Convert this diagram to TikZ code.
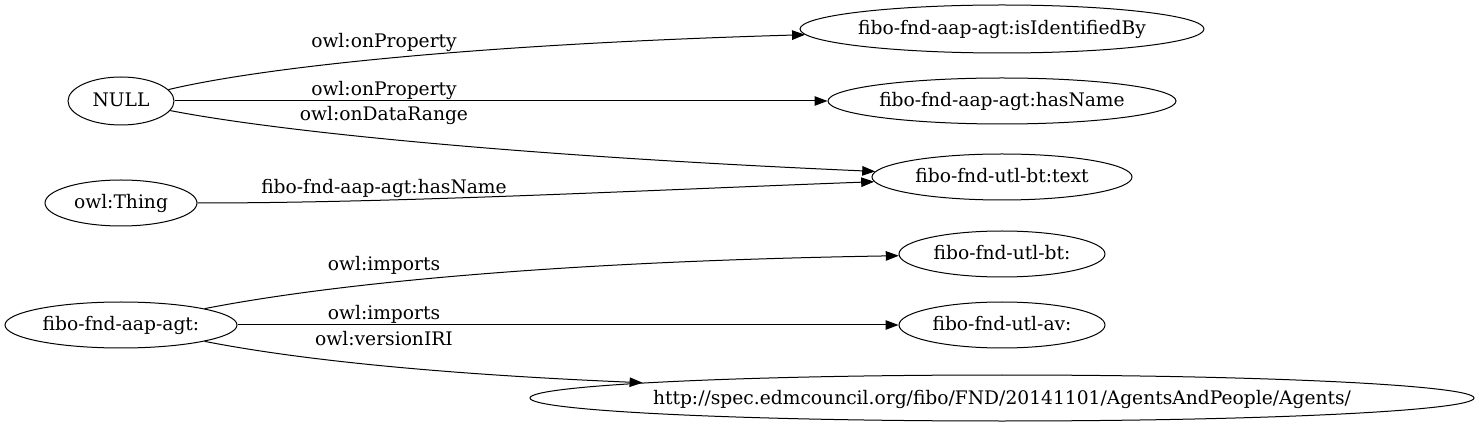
\documentclass[tikz,border=0pt]{standalone}
\usepackage{fontspec}
\setmainfont{DejaVu Serif}
\usetikzlibrary{arrows.meta,shapes.geometric}
\newcommand\ovl[1]{\makebox[0pt]{#1}}
\begin{document}
\begin{tikzpicture}[x=1pt,y=-1pt,
  font=\fontsize{18.67}{22}\selectfont,
  nd/.style={ellipse,draw,line width=1pt,inner sep=0pt,text height=13.5pt,text depth=1.5pt},
  lbl/.style={inner sep=0pt,text height=13.5pt,text depth=1.5pt},
  conn/.style={draw,line width=1pt,-{Triangle[length=13pt,width=9.5pt]}}]
\useasboundingbox (0,0) rectangle (1480,427);
% nodes
\node[nd,minimum width=404pt,minimum height=48pt] (isid) at (1002,29) {\ovl{fibo-fnd-aap-agt:isIdentifiedBy}};
\node[nd,minimum width=348pt,minimum height=46pt] (hasname) at (1002,101) {\ovl{fibo-fnd-aap-agt:hasName}};
\node[nd,minimum width=260pt,minimum height=46pt] (text) at (1002,177) {\ovl{fibo-fnd-utl-bt:text}};
\node[nd,minimum width=206pt,minimum height=46pt] (utlbt) at (1002,254) {\ovl{fibo-fnd-utl-bt:}};
\node[nd,minimum width=206pt,minimum height=46pt] (utlav) at (1002,325) {\ovl{fibo-fnd-utl-av:}};
\node[nd,minimum width=944pt,minimum height=46pt] (http) at (1002,398) {\ovl{http://spec.edmcouncil.org/fibo/FND/20141101/AgentsAndPeople/Agents/}};
\node[nd,minimum width=106pt,minimum height=48pt] (null) at (121,101) {\ovl{NULL}};
\node[nd,minimum width=152pt,minimum height=46pt] (thing) at (121,203) {\ovl{owl:Thing}};
\node[nd,minimum width=232pt,minimum height=46pt] (agt) at (121,325) {\ovl{fibo-fnd-aap-agt:}};
% connectors
\draw[conn] (null) .. controls (250,70) and (450,45) .. (isid);
\draw[conn] (null) -- (hasname);
\draw[conn] (null) .. controls (270,130) and (500,155) .. (text);
\draw[conn] (thing) .. controls (400,203) and (650,190) .. (text);
\draw[conn] (agt) .. controls (310,288) and (520,262) .. (utlbt);
\draw[conn] (agt) -- (utlav);
\draw[conn] (agt) .. controls (310,362) and (460,375) .. (http);
% labels
\node[lbl] (l1) at (384,42) {owl:onProperty};
\node[lbl] (l2) at (384,90) {owl:onProperty};
\node[lbl] (l3) at (384,115) {owl:onDataRange};
\node[lbl] (l4) at (384,188) {fibo-fnd-aap-agt:hasName};
\node[lbl] (l5) at (384,265) {owl:imports};
\node[lbl] (l6) at (384,314) {owl:imports};
\node[lbl] (l7) at (384,339) {owl:versionIRI};
\end{tikzpicture}
\end{document}
